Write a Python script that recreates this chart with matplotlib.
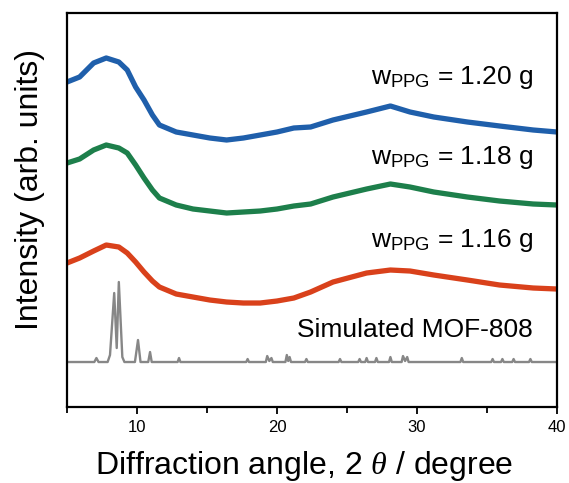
import matplotlib
matplotlib.use('Agg')
import matplotlib.pyplot as plt

plt.rcParams['font.family'] = ['Liberation Sans', 'DejaVu Sans']
plt.rcParams['mathtext.fontset'] = 'custom'
plt.rcParams['mathtext.rm'] = 'Liberation Sans'
plt.rcParams['mathtext.it'] = 'Liberation Serif:italic'

# 2theta positions
two_theta = [5.0, 5.9, 6.9, 7.8, 8.7, 9.3, 9.9, 10.5, 11.1, 11.6, 12.8, 14.0, 15.2, 16.4,
             17.6, 18.8, 20.0, 21.2, 22.4, 24.0, 26.4, 28.1, 29.5, 31.2, 33.6, 35.9, 38.3, 40.0]

# intensities (arb. units, already offset as in the figure)
w120 = [327, 332, 346, 351, 347, 339, 322, 309, 294, 284, 277, 274, 271, 269,
        271, 274, 277, 281, 282, 289, 297, 303, 297, 292, 287, 283, 279, 277]
w118 = [246, 250, 259, 264, 261, 256, 244, 231, 219, 211, 204, 200, 198, 196,
        197, 198, 200, 203, 205, 212, 220, 225, 222, 217, 212, 208, 205, 204]
w116 = [146, 151, 158, 164, 162, 156, 147, 137, 128, 122, 115, 112, 109, 107,
        106, 106, 108, 111, 117, 127, 136, 139, 138, 134, 129, 124, 121, 120]

# simulated MOF-808 pattern
sim_x = [5.0, 6.95, 7.1, 7.25, 7.9, 8.07, 8.37, 8.55, 8.7, 8.95, 9.1, 9.85, 10.07, 10.25,
         10.8, 10.93, 11.05, 12.9, 13.0, 13.1, 17.8, 17.9, 18.0, 19.2, 19.3, 19.45, 19.6,
         19.7, 20.6, 20.7, 20.8, 20.9, 21.0, 22.0, 22.1, 22.2, 24.4, 24.5, 24.6, 25.8, 25.9,
         26.0, 26.3, 26.4, 26.5, 27.0, 27.1, 27.2, 28.0, 28.1, 28.2, 28.9, 29.0, 29.15,
         29.3, 29.4, 33.1, 33.2, 33.3, 35.3, 35.4, 35.5, 36.0, 36.1, 36.2, 36.8, 36.9,
         37.0, 38.0, 38.1, 38.2, 40.0]
sim_y = [47, 47, 51, 47, 47, 54, 116, 61, 127, 52, 47, 47, 69, 47,
         47, 57, 47, 47, 51, 47, 47, 50, 47, 47, 53, 48, 51,
         47, 47, 54, 48, 52, 47, 47, 50, 47, 47, 50, 47, 47, 50,
         47, 47, 51, 47, 47, 51, 47, 47, 52, 47, 47, 53, 48,
         52, 47, 47, 51, 47, 47, 50, 47, 47, 50, 47, 47, 50,
         47, 47, 50, 47, 47]

labels = ['w$_{\\mathrm{PPG}}$ = 1.20 g', 'w$_{\\mathrm{PPG}}$ = 1.18 g',
          'w$_{\\mathrm{PPG}}$ = 1.16 g', 'Simulated MOF-808']
label_y = [331, 252, 169, 79]
colors = ['#1f5fab', '#1d7f4b', '#d9411b', '#878787']

fig = plt.figure(figsize=(5.69, 4.83), dpi=100)
ax = fig.add_axes([0.1178, 0.1573, 0.8611, 0.8158])

ax.plot(two_theta, w120, color=colors[0], lw=3.8, solid_joinstyle='round')
ax.plot(two_theta, w118, color=colors[1], lw=3.8, solid_joinstyle='round')
ax.plot(two_theta, w116, color=colors[2], lw=3.8, solid_joinstyle='round')
ax.plot(sim_x, sim_y, color=colors[3], lw=1.7)

for lab, yy in zip(labels, label_y):
    ax.text(38.3, yy, lab, fontsize=19, ha='right', va='center')

ax.set_xlim(5, 40)
ax.set_ylim(2, 396)
ax.set_xticks([10, 20, 30, 40])
ax.set_xticks([5, 15, 25, 35], minor=True)
ax.set_yticks([])
ax.tick_params(axis='x', which='both', direction='out', width=1.3, labelsize=12, pad=4)
ax.tick_params(axis='x', which='major', length=5)
ax.tick_params(axis='x', which='minor', length=4)
for sp in ax.spines.values():
    sp.set_linewidth(1.6)

fig.text(304 / 569, 1 - 474 / 483, 'Diffraction angle, 2 $\\theta$ / degree',
         fontsize=23, ha='center', va='baseline')
fig.text(38 / 569, 1 - 189 / 483, 'Intensity (arb. units)', fontsize=23,
         rotation=90, rotation_mode='anchor', ha='center', va='baseline')

fig.savefig('out.png', dpi=100)
